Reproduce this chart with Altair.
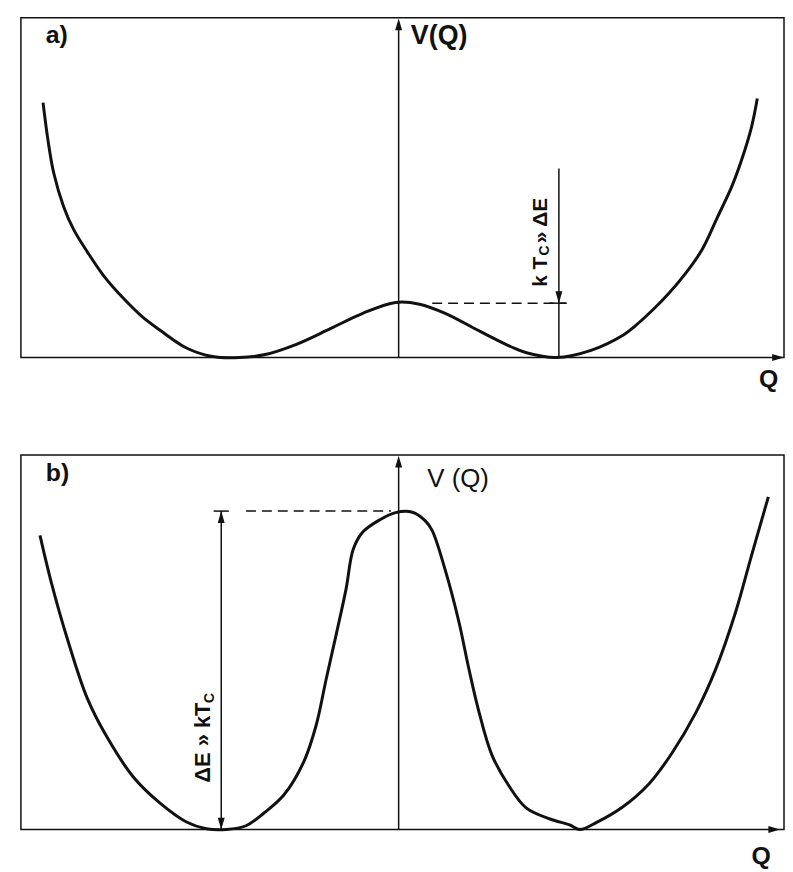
import altair as alt
import pandas as pd

# ---- data (Q in arbitrary units, V normalised to panel height) ----
a_q = [-0.932, -0.919, -0.904, -0.878, -0.852, -0.816, -0.774, -0.722, -0.670, -0.626,
       -0.556, -0.488, -0.418, -0.353, -0.268, -0.179, -0.094, -0.008, 0.055, 0.122,
       0.210, 0.296, 0.335, 0.413, 0.504, 0.590, 0.621, 0.665, 0.706, 0.751,
       0.795, 0.836, 0.873, 0.899, 0.925, 0.940]
a_v = [0.750, 0.639, 0.543, 0.444, 0.377, 0.311, 0.242, 0.175, 0.118, 0.081,
       0.028, 0.003, 0.0, 0.008, 0.039, 0.085, 0.130, 0.162, 0.157, 0.130,
       0.079, 0.031, 0.014, 0.0, 0.021, 0.067, 0.094, 0.139, 0.186, 0.246,
       0.317, 0.414, 0.503, 0.582, 0.679, 0.762]

b_q = [-0.940, -0.912, -0.868, -0.816, -0.764, -0.696, -0.626, -0.556, -0.504, -0.452,
       -0.400, -0.353, -0.301, -0.249, -0.216, -0.190, -0.164, -0.138, -0.119, -0.094,
       -0.049, -0.008, 0.036, 0.070, 0.088, 0.122, 0.158, 0.184, 0.210, 0.244,
       0.288, 0.335, 0.397, 0.449, 0.475, 0.519, 0.587, 0.657, 0.717, 0.779,
       0.831, 0.883, 0.925, 0.969]
b_v = [0.785, 0.666, 0.508, 0.350, 0.246, 0.141, 0.071, 0.020, 0.002, 0.0,
       0.010, 0.044, 0.092, 0.180, 0.279, 0.401, 0.519, 0.641, 0.748, 0.794,
       0.827, 0.846, 0.847, 0.824, 0.798, 0.693, 0.554, 0.429, 0.316, 0.200,
       0.118, 0.057, 0.028, 0.012, 0.0, 0.019, 0.060, 0.123, 0.205, 0.312,
       0.428, 0.580, 0.732, 0.888]

# annotation levels
barrier_a = 0.16      # top of small barrier (panel a)
kT_top_a = 0.556      # top of kT arrow line (panel a)
kT_q_a = 0.42
barrier_b = 0.85      # top of big barrier (panel b)
dE_q_b = -0.465

XD = [-0.99, 1.01]
YD = [0, 1]
W = 768
HA = 342
HB = 377
INK = "#111111"
FONT = "Liberation Sans"

UP = "M0,0L-1,3.4L1,3.4Z"
DOWN = "M0,0L-1,-3.4L1,-3.4Z"
RIGHT = "M0,0L-3.4,-1L-3.4,1Z"


def X(f):
    return alt.X(f, type="quantitative", scale=alt.Scale(domain=XD, nice=False, zero=False), axis=None)


def Y(f):
    return alt.Y(f, type="quantitative", scale=alt.Scale(domain=YD, nice=False, zero=False), axis=None)


def curve(q, v):
    df = pd.DataFrame({"q": q, "v": v})
    return alt.Chart(df).mark_line(color=INK, strokeWidth=3, interpolate="catmull-rom").encode(
        x=X("q"), y=Y("v"))


def vrule(rows, width=1.5):
    df = pd.DataFrame(rows, columns=["q", "v", "v2"])
    return alt.Chart(df).mark_rule(color=INK, strokeWidth=width).encode(x=X("q"), y=Y("v"), y2="v2")


def hrule(rows, dash=None, width=1.5):
    df = pd.DataFrame(rows, columns=["q", "q2", "v"])
    kw = dict(color=INK, strokeWidth=width)
    if dash:
        kw["strokeDash"] = dash
    return alt.Chart(df).mark_rule(**kw).encode(x=X("q"), x2="q2", y=Y("v"))


def arrow(rows, shape):
    df = pd.DataFrame(rows, columns=["q", "v"])
    return alt.Chart(df).mark_point(shape=shape, filled=True, size=49, color=INK, opacity=1,
                                    strokeWidth=0).encode(x=X("q"), y=Y("v"))


def text(q, v, s, size=22, bold=True, angle=0, align="left", baseline="middle"):
    df = pd.DataFrame({"q": [q], "v": [v], "t": [s]})
    kw = dict(font=FONT, fontSize=size, fontWeight="bold" if bold else "normal", color=INK,
              align=align, baseline=baseline)
    if angle:
        kw["angle"] = angle
    return alt.Chart(df).mark_text(**kw).encode(x=X("q"), y=Y("v"), text="t:N")


panel_a = alt.layer(
    vrule([[0.0, 0.0, 0.97], [kT_q_a, 0.0, kT_top_a]]),
    hrule([[0.088, 0.44, barrier_a]], dash=[10, 6]),
    hrule([[0.395, 0.44, barrier_a]]),
    curve(a_q, a_v),
    arrow([[0.0, 0.998]], UP),
    arrow([[kT_q_a, barrier_a]], DOWN),
    arrow([[1.01, 0.0]], RIGHT),
    text(-0.925, 0.95, "a)", size=25),
    text(0.032, 0.945, "V(Q)", size=27),
    text(0.97, -0.062, "Q", size=25, align="center"),
    text(0.372, 0.208, "k T", size=21, angle=270),
    text(0.384, 0.300, "C", size=14, angle=270),
    text(0.372, 0.336, "» ΔE", size=21, angle=270),
).properties(width=W, height=HA)

panel_b = alt.layer(
    vrule([[0.0, 0.0, 0.97], [dE_q_b, 0.0, barrier_b]]),
    hrule([[-0.40, -0.02, barrier_b]], dash=[10, 6]),
    hrule([[-0.485, -0.445, barrier_b]]),
    curve(b_q, b_v),
    arrow([[0.0, 0.998], [dE_q_b, barrier_b]], UP),
    arrow([[dE_q_b, 0.0]], DOWN),
    arrow([[1.0, 0.0]], RIGHT),
    text(-0.925, 0.952, "b)", size=25),
    text(0.075, 0.936, "V (Q)", size=26, bold=False),
    text(0.95, -0.072, "Q", size=25, align="center"),
    text(-0.512, 0.125, "ΔE » kT", size=22, angle=270),
    text(-0.495, 0.338, "C", size=14, angle=270),
).properties(width=W, height=HB)

chart = alt.vconcat(panel_a, panel_b, spacing=98).properties(
    padding={"left": 12, "top": 6, "right": 0, "bottom": 0},
    bounds="flush",
).configure_view(stroke=INK, strokeWidth=1.5)

chart.save("out.html", embed_options={"renderer": "svg", "actions": False})
